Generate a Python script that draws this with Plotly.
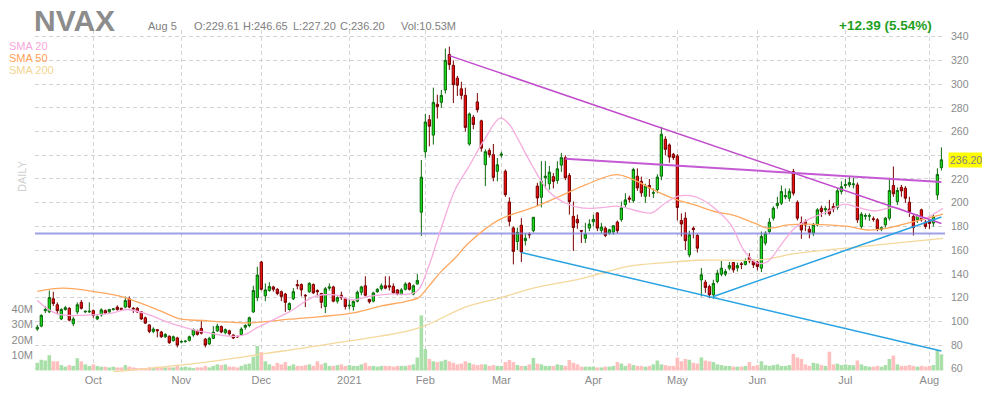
import pandas as pd
import plotly.graph_objects as go

# ---------------- data ----------------
holidays = ["2020-11-26", "2020-12-25", "2021-01-01", "2021-01-18",
            "2021-02-15", "2021-04-02", "2021-05-31", "2021-07-05"]
dates = [d for d in pd.bdate_range("2020-09-11", "2021-08-05")
         if d.strftime("%Y-%m-%d") not in holidays]
idx = list(range(len(dates)))

opens = [
    93.5, 96, 109, 108, 119, 114, 102, 110, 111, 98, 108, 116, 108, 108,
    109, 102, 105.5, 109, 108, 110, 112, 111, 112, 119, 111, 111, 108, 103, 97, 91.5, 93, 91, 87, 87.5, 83.7, 86,
    82.5, 83, 84, 88.5, 92, 94, 85, 81, 85.7, 92, 95.6, 90.5, 92, 88.5, 87.3, 88.8, 95, 96.5, 108, 120,
    150, 121.5, 126, 129, 127, 125, 123, 110, 119, 131, 131, 122, 125, 131, 126, 123.5, 112.5, 128, 129, 117, 122, 119,
    113, 112.5, 117, 124.5, 130, 118.5, 117, 125, 127.5, 130, 130, 129.5, 126.5, 123, 127, 132, 123, 131.5, 192,
    243, 270, 257, 283, 284.6, 295, 325, 315.8, 305, 296, 290.5, 249.5, 272, 285, 269, 232, 244, 240.5, 226.5,
    240, 226.5, 200.6, 178.7, 167.3, 181, 168, 173.5, 176.4, 214, 204.6, 221, 216, 222, 218.8, 231.7, 238, 223, 188.5, 186, 176.5, 170, 178.6,
    184, 191.4, 176.7, 178.6, 174.4, 175.3, 183.7, 185.7, 198.4, 204, 201.8, 222.4, 218, 205.5, 214.5, 208, 211, 222.4, 253.5, 248.7, 240.8,
    239.4, 185, 187, 156, 178.5, 172.4, 135, 133, 129.4, 122.4, 133.6, 139.8, 139.8, 144.8, 149.6, 145, 148.5, 148, 154, 151,
    150, 144.8, 166, 175.7, 187, 197.6, 199.6, 205, 203.8, 226.3, 200.4, 183.3, 184, 177.7, 174.3, 181.3, 195.4, 194, 194.6, 196.8, 196, 209.4,
    214.5, 215, 215.2, 215, 180, 188.5, 188.6, 186.5, 185.6, 177.4, 181.3, 187, 214.5, 201, 213, 212.2, 200.4, 188.4, 185.6, 194, 183.6,
    184.7, 182.8, 206.6, 229.61,
]
highs = [
    97, 106, 113, 126, 125, 116, 111, 113, 112, 104, 116, 118, 109, 116,
    110, 105, 111, 110, 110.5, 111, 113.5, 111.5, 121, 121, 112, 112, 108.5, 104, 97.5, 95, 93.5, 92, 90, 88, 88, 87,
    84, 84, 88, 94, 93, 100.5, 86, 87, 96, 98, 96.5, 94, 93, 89, 88, 95, 97.5, 104, 130, 146,
    151, 132, 133, 130, 128, 126, 124, 116, 128, 135, 132, 123, 133, 132, 127, 124, 129, 132, 130, 121, 125, 120,
    118, 118, 126, 130, 138, 119, 125, 128, 132, 138, 138, 132, 127, 128, 133, 133, 131, 140, 236,
    275, 274, 297, 291, 295, 330, 331.6, 320, 307, 302, 297, 276, 274, 292.5, 270, 245, 246, 249.5, 237.7,
    243, 228, 204.6, 180, 179, 187, 174.5, 175, 188, 216.8, 235, 235, 231, 225, 235, 242, 240, 225, 201, 190, 177, 183, 186,
    190, 192, 183, 180, 178, 181, 185, 201, 208, 206, 229.5, 229, 222, 216, 220, 212, 224, 264, 256, 250, 242,
    241, 191, 192, 176.4, 180, 174, 145, 135, 131, 135, 143.4, 151, 144, 150, 150, 149.5, 150, 153, 157.5, 152,
    151, 175.7, 176, 187, 197, 205, 214.5, 212, 212, 228.5, 202, 188.4, 186, 180.5, 183, 195.4, 197.6, 197, 202.4, 199.6, 212, 218,
    220, 222, 221, 217, 192, 191, 191, 188.4, 187, 180, 188, 221, 230.5, 213, 215, 214, 205, 190, 190, 195, 185.5,
    186, 190, 229, 246.65,
]
lows = [
    92, 95, 107, 107, 113, 106, 101, 109, 100, 96, 106, 110, 107, 107,
    103, 101, 104, 106, 107, 109, 109, 109, 111, 111, 107, 107, 101, 98, 90, 90, 86.5, 86, 86, 81, 83, 78,
    81.5, 82, 83, 87, 88, 89, 78, 80, 85, 91, 90, 89, 88, 85, 86, 88, 93, 95, 107, 117,
    126, 117, 125, 125, 122, 117, 108, 109, 118, 127, 121, 112, 124, 123, 121, 111, 107, 126, 116, 115, 118, 110,
    110, 109, 116, 122, 121, 115, 116, 124, 126, 127, 126, 123, 122, 122, 126, 126, 122, 131, 172,
    238, 247.5, 249, 271, 280, 292, 312, 284, 290, 287, 260, 248, 262, 276, 243, 214, 238, 218, 218,
    238, 205, 180, 148, 160, 150, 164, 170, 175, 197, 196, 212, 211, 212, 216, 226, 219, 190, 159.4, 178, 166, 166, 176,
    180, 176, 174, 171, 173, 173, 174, 184, 196, 200, 200, 210, 205, 200, 205, 204, 208, 219, 240, 233.7, 236,
    185, 171.6, 160, 154, 170, 158, 121, 124, 119.5, 119, 132, 138, 138, 143, 141, 142, 144, 147, 149, 145,
    143, 141.5, 164, 174, 185, 195, 198, 203, 201, 206, 185, 169.6, 176, 170, 172, 180, 188, 190, 189, 192, 194, 207,
    212, 213, 212, 183, 178, 185.6, 184.7, 184, 176, 176, 179, 185, 205, 198, 205, 200, 188, 172.4, 183, 184, 178,
    178, 180, 202.4, 227.2,
]
closes = [
    95, 105, 110, 120, 115, 109, 110, 111.5, 101, 102, 114, 111, 108.5, 108.5,
    105, 104, 109.7, 107, 110, 110.5, 110, 110, 117.5, 112, 110.5, 108, 102, 98.5, 91.5, 93.5, 92, 87, 89, 82, 87, 80,
    83, 83.3, 87, 93, 89, 90, 80, 85.7, 90.8, 96, 91, 93, 89.5, 86, 87, 93.5, 96.5, 103, 126, 139,
    127, 126.5, 129.3, 127, 123.5, 121, 116, 115, 125, 130, 126.5, 121.5, 132, 124, 125, 116, 127.5, 129, 117, 120, 120, 112.5,
    113.5, 116.7, 124.5, 129, 122, 116.5, 124, 127, 130, 128, 129, 124, 123, 126.5, 131.5, 127, 130, 134.5, 221.5,
    268, 264.5, 284.6, 281, 290.5, 320, 316.4, 299.5, 299, 290.5, 263.5, 274.8, 266, 278.4, 246, 243, 240.5, 221.4, 232,
    241, 206.8, 184.3, 159, 175, 158.5, 170, 173, 187.7, 204, 218.2, 222.4, 225.8, 218, 228.6, 238, 221, 201, 179, 183, 176, 173.6, 182,
    186, 178.6, 179.5, 172.4, 177.2, 180.6, 176.4, 195.6, 202.4, 203, 228, 212.5, 208.3, 214, 212.6, 208.5, 221.6, 257.7, 245, 238.5, 238,
    196, 182, 168, 173, 177.5, 161.7, 139.2, 128.5, 122.4, 132, 140.6, 144.8, 142, 147, 143.4, 147, 148, 151, 151, 147.6,
    146.2, 171.5, 174.3, 183.6, 195.4, 199.6, 209.4, 206, 209.4, 208, 187, 177, 181.3, 175, 181.3, 194, 192.6, 195, 190.6, 194.8, 210, 213.4,
    215.2, 217, 215.8, 185.6, 190.3, 189.2, 189, 186, 178, 179, 187, 210.3, 207.5, 210.3, 210, 203.8, 192.6, 179, 189.2, 185.6, 180,
    182.5, 188.4, 223.81, 236.2,
]
volumes_m = [
    5, 7, 6.5, 10, 6, 6, 3.5, 2.5, 3.5, 3, 8, 6, 4, 3,
    4, 3, 2.5, 2.5, 2, 2.5, 2, 2, 3.5, 2.5, 2, 1.5, 1.5, 1.5, 2, 1.5, 2.5, 2, 2, 2, 2, 3,
    2, 2.5, 2, 1.5, 2, 2, 3, 2, 3, 4, 3.5, 4, 2.5, 2.5, 2, 3, 4, 4.5, 9, 16,
    12, 6, 4, 3, 5, 4, 5.5, 3, 4, 3, 3, 3.5, 4, 3, 6, 4, 5, 3, 3, 3.5, 4, 3,
    3.5, 3, 3, 4, 5, 3, 3, 2.5, 3, 3, 3, 2.5, 3, 3, 3, 3.5, 4, 8.5, 36,
    14, 7.5, 6, 5.5, 6, 7, 6, 5, 4, 4.5, 6, 5, 4, 3.5, 4, 4, 3, 3.5, 3,
    3, 5.5, 6.8, 5.5, 3.5, 3, 3, 4, 8.2, 4.5, 4, 3, 3, 3, 4, 3.5, 3, 6.8, 5, 4, 2.5, 2.5, 2.5,
    2.5, 2, 2, 2.5, 2.5, 3, 5.5, 4.5, 3, 4.5, 3.5, 3, 3, 2.5, 3, 4, 6.5, 4, 3.5, 3, 3,
    8.4, 6, 7.5, 7, 5, 4.5, 8.5, 6.5, 6, 5.5, 4, 3.5, 3, 3, 2.5, 2.5, 2.5, 3, 5.5, 3,
    3.5, 6, 3.5, 3, 3.5, 4, 3, 3, 3.5, 10.8, 8.5, 7.5, 4, 3, 5, 4.5, 3.5, 3, 12.3, 4, 4.5, 3.5,
    4, 3.5, 3.5, 6.5, 4, 3, 2.5, 2.5, 3, 2.5, 3.5, 7.5, 9.7, 4, 3, 3, 3.5, 3, 2.5, 3, 2.5,
    3, 3.5, 13.4, 10.53,
]

# moving averages (day index, price)
sma20_x = [0, 5, 14, 19, 22.3, 27.3, 31.5, 35.7, 39.8, 43, 46.5, 49.8, 52.3, 54.8, 57, 60, 63, 69.4, 74.4, 78.6,
           82.8, 87.8, 93.6, 95.3, 97.8, 101.1, 104.4, 107.8, 111.5, 115.7, 118, 119.5, 123.6, 127.8, 132, 136,
           140.3, 145.3, 150.3, 153.6, 157, 160.3, 163, 165.3, 169.3, 173.4, 176.8, 180.1, 182.6, 185.9, 189.3,
           192.6, 197.6, 201.8, 205.1, 209.3, 214.3, 218.4, 221.8, 224.3, 226.4]
sma20_y = [117.6, 106.3, 105.5, 107.2, 110, 106.3, 100.7, 95.9, 92.2, 90.2, 88, 87.4, 89.4, 94.5, 98, 103, 108, 121,
           122.3, 118, 121, 123, 123.3, 126.5, 146, 180, 210.8, 230, 251.7, 271.4, 266, 257.7, 232, 209.7, 199.8,
           195.6, 195.6, 197, 192.8, 191.4, 199.8, 205.5, 206, 204, 195.4, 181.3, 158.9, 149, 150.4, 164.5, 178.5,
           185.6, 192.6, 198.8, 196, 193, 196, 191, 187, 191, 195.4]
sma50_x = [0, 6.5, 15, 21.5, 27.3, 31.5, 35.7, 41.5, 48, 53, 56.5, 63, 71, 79.4, 86, 92, 95.3, 97.8, 101.2, 104.4,
           107.5, 115.5, 124, 131, 137, 144.7, 149, 154.8, 159.8, 164.5, 169.3, 174.3, 179.3, 182.6, 187.6, 192.6,
           197.6, 202.6, 207.6, 212.6, 217.6, 222.6, 226.4]
sma50_y = [125.3, 128, 124.7, 120.5, 113.4, 107.7, 102, 100.7, 99.3, 98.7, 99.5, 101.8, 104, 107.4, 113, 116.7, 120,
           129.3, 143, 153.2, 165, 185.7, 196, 206, 215, 223.6, 219.4, 209.6, 202.6, 198, 192.6, 189.2, 182.8,
           178.5, 181.3, 182, 181.3, 180, 177, 178.5, 182.8, 187, 190.3]
sma200_x = [19, 23.6, 40.7, 57.3, 74, 95, 107, 116, 124, 136, 148, 157, 165, 181, 189.3, 206, 222.6, 226.4]
sma200_y = [57.5, 59, 65, 73, 81.5, 94, 112, 120, 128, 136, 146.5, 149.5, 151.5, 152, 157, 163, 168.7, 170]

# drawn trend lines: (start day, start price, end day, end price)
trend_lines = [
    (103, 324, 226, 182.5, "#c04ccc", 1.5),
    (132, 237, 226, 217.5, "#c45ad2", 2),
    (121, 158, 226, 75, "#27a2e2", 1.5),
    (169, 121, 226, 188, "#27a2e2", 1.5),
]
support_level = 174

month_names = ["Oct", "Nov", "Dec", "2021", "Feb", "Mar", "Apr", "May", "Jun", "Jul", "Aug"]
tick_pos = [i for i in range(1, len(dates)) if dates[i].month != dates[i - 1].month]

price_ticks = list(range(60, 341, 20))
price_labels = ["" if v == 240 else str(v) for v in price_ticks]  # 240 is hidden under the last-price tag
vol_ticks = [10, 20, 30, 40]

# ---------------- figure ----------------
GREEN_V = "#a9dfa9"
RED_V = "#ffbfbf"
vol_colors = [GREEN_V if c >= o else RED_V for o, c in zip(opens, closes)]

fig = go.Figure()
fig.add_trace(go.Bar(x=idx, y=volumes_m, marker=dict(color=vol_colors, line=dict(width=0)),
                     width=0.9, yaxis="y", hoverinfo="skip"))

fig.add_trace(go.Scatter(x=[-1, len(idx)], y=[support_level, support_level], mode="lines",
                         line=dict(color="rgba(130,130,225,0.75)", width=2), yaxis="y2", hoverinfo="skip"))
fig.add_trace(go.Scatter(x=sma200_x, y=sma200_y, mode="lines", line=dict(color="#f5d89c", width=1.3, shape="spline"),
                         yaxis="y2", hoverinfo="skip"))
fig.add_trace(go.Scatter(x=sma50_x, y=sma50_y, mode="lines", line=dict(color="#ffa860", width=1.3, shape="spline"),
                         yaxis="y2", hoverinfo="skip"))
fig.add_trace(go.Scatter(x=sma20_x, y=sma20_y, mode="lines", line=dict(color="#f6acdf", width=1.3, shape="spline"),
                         yaxis="y2", hoverinfo="skip"))
for x0, y0, x1, y1, col, w in trend_lines:
    fig.add_trace(go.Scatter(x=[x0, x1], y=[y0, y1], mode="lines", line=dict(color=col, width=w),
                             yaxis="y2", hoverinfo="skip"))

fig.add_trace(go.Candlestick(
    x=idx, open=opens, high=highs, low=lows, close=closes, yaxis="y2",
    increasing=dict(line=dict(color="#0c6a0c", width=1), fillcolor="#16e016"),
    decreasing=dict(line=dict(color="#7a0000", width=1), fillcolor="#ee1010"),
    whiskerwidth=0, hoverinfo="skip"))

# The page body has an 8px margin, so the figure is drawn 8px smaller and
# its margins reduced so that the plot lands on the reference pixels.
GRID = "#d4d4d4"
fig.update_layout(
    width=982, height=392,
    margin=dict(l=27, r=45, t=22, b=28, autoexpand=False),
    paper_bgcolor="white", plot_bgcolor="white",
    showlegend=False, boxgap=0.18,
    font=dict(family="Liberation Sans, Arial, sans-serif", color="#888888"),
    xaxis=dict(range=[-0.575, len(idx) - 0.1], tickvals=tick_pos, ticktext=month_names,
               showgrid=True, gridcolor=GRID, griddash="4px,3px", gridwidth=1, automargin=False,
               zeroline=False, showline=False, ticks="", rangeslider=dict(visible=False),
               tickfont=dict(size=11, color="#8a8a8a")),
    yaxis=dict(range=[-1, 222.5], tickvals=vol_ticks, ticktext=[f"{v}M" for v in vol_ticks],
               side="left", showgrid=False, zeroline=False, showline=False, ticks="", automargin=False,
               tickfont=dict(size=11, color="#8a8a8a"), ticklabelstandoff=1),
    yaxis2=dict(range=[57.3, 345.6], tickvals=price_ticks, ticktext=price_labels,
                overlaying="y", side="right", automargin=False,
                showgrid=True, gridcolor=GRID, griddash="4px,3px", gridwidth=1,
                zeroline=False, showline=False, ticks="",
                tickfont=dict(size=10.5, color="#8a8a8a"), ticklabelstandoff=5),
)

# helpers: window pixel -> paper coordinates (plot area spans x 35..945, y 30..372 in the window)
def px_x(px):
    return (px - 35) / 910.0

def px_y(py):
    return (372 - py) / 342.0

ann = [
    dict(text="<b>NVAX</b>", x=px_x(33), y=px_y(20), xanchor="left", yanchor="middle",
         font=dict(size=30, color="#8c8c8c")),
    dict(text="Aug 5", x=px_x(147), y=px_y(26), xanchor="left", yanchor="middle",
         font=dict(size=11, color="#808080")),
    dict(text="O:229.61", x=px_x(193), y=px_y(26), xanchor="left", yanchor="middle",
         font=dict(size=11, color="#808080")),
    dict(text="H:246.65", x=px_x(242), y=px_y(26), xanchor="left", yanchor="middle",
         font=dict(size=11, color="#808080")),
    dict(text="L:227.20", x=px_x(291.5), y=px_y(26), xanchor="left", yanchor="middle",
         font=dict(size=11, color="#808080")),
    dict(text="C:236.20", x=px_x(339), y=px_y(26), xanchor="left", yanchor="middle",
         font=dict(size=11, color="#808080")),
    dict(text="Vol:10.53M", x=px_x(400), y=px_y(26), xanchor="left", yanchor="middle",
         font=dict(size=11, color="#808080")),
    dict(text="<b>+12.39 (5.54%)</b>", x=px_x(933), y=px_y(26), xanchor="right", yanchor="middle",
         font=dict(size=13.5, color="#1f9e1f")),
    dict(text="SMA 20", x=px_x(8), y=px_y(45.7), xanchor="left", yanchor="middle",
         font=dict(size=11, color="#f7a6da")),
    dict(text="SMA 50", x=px_x(8), y=px_y(57.7), xanchor="left", yanchor="middle",
         font=dict(size=11, color="#ffa055")),
    dict(text="SMA 200", x=px_x(8), y=px_y(70), xanchor="left", yanchor="middle",
         font=dict(size=11, color="#f3d592")),
    dict(text="DAILY", x=px_x(22), y=px_y(176), xanchor="center", yanchor="middle", textangle=-90,
         font=dict(size=11, color="#d0d0d0")),
]
for a in ann:
    a.update(xref="paper", yref="paper", showarrow=False, borderpad=0)
    fig.add_annotation(**a)

fig.add_annotation(text="236.20", x=1, xref="paper", xshift=3, y=closes[-1], yref="y2",
                   xanchor="left", yanchor="middle", showarrow=False, bgcolor="#ffff00",
                   borderpad=1, font=dict(size=10.5, color="#808080"))

fig.write_html("out.html")
